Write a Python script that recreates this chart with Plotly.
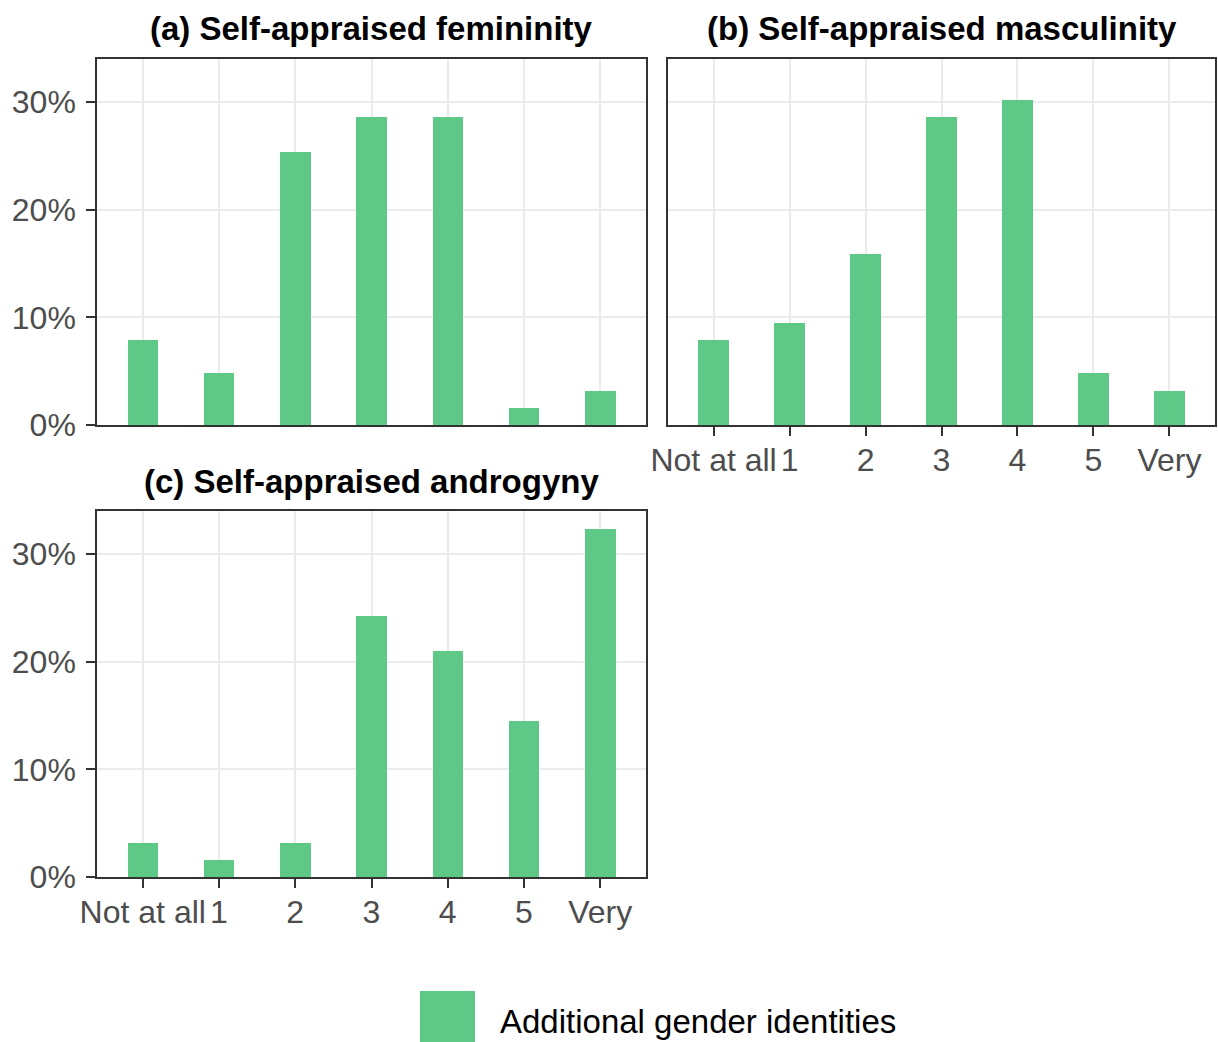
import plotly.graph_objects as go

categories = ["Not at all", "1", "2", "3", "4", "5", "Very"]
femininity = [0.079, 0.048, 0.254, 0.286, 0.286, 0.016, 0.032]
masculinity = [0.079, 0.095, 0.159, 0.286, 0.302, 0.048, 0.032]
androgyny = [0.032, 0.016, 0.032, 0.242, 0.210, 0.145, 0.323]
panel_titles = ["(a) Self-appraised femininity", "(b) Self-appraised masculinity", "(c) Self-appraised androgyny"]
series_name = "Additional gender identities"
y_ticks = [0, 0.1, 0.2, 0.3]

W, H = 1218, 1042
BAR = "#5EC886"
FONT = "Liberation Sans, Arial, sans-serif"

def px(x):
    return x / W

def py(y):
    return 1 - y / H

fig = go.Figure()

panels = [
    dict(vals=femininity, x0=97, x1=646, y0=59, y1=425, xa="x", ya="y", showx=False, showy=True),
    dict(vals=masculinity, x0=668, x1=1215, y0=59, y1=425, xa="x2", ya="y2", showx=True, showy=False),
    dict(vals=androgyny, x0=97, x1=646, y0=511, y1=877, xa="x3", ya="y3", showx=True, showy=True),
]

for i, p in enumerate(panels):
    fig.add_trace(go.Bar(
        x=categories, y=p["vals"], width=0.4, marker=dict(color=BAR, line=dict(width=0)),
        xaxis=p["xa"], yaxis=p["ya"], showlegend=False, name=series_name,
    ))
    sfx = "" if i == 0 else str(i + 1)
    fig.layout["xaxis" + sfx] = dict(
        domain=[px(p["x0"]), px(p["x1"])], anchor="y" + sfx, type="category",
        categoryorder="array", categoryarray=categories, range=[-0.6, 6.6],
        showgrid=True, gridcolor="#EBEBEB", gridwidth=2,
        showline=True, linecolor="#333333", linewidth=1.5, mirror=True,
        ticks="outside" if p["showx"] else "", ticklen=9, tickwidth=2, tickcolor="#333333",
        showticklabels=p["showx"], tickfont=dict(family=FONT, size=32, color="#4D4D4D"),
        zeroline=False, automargin=False, ticklabelstandoff=-3,
    )
    fig.layout["yaxis" + sfx] = dict(
        domain=[py(p["y1"]), py(p["y0"])], anchor="x" + sfx, range=[0, 0.34],
        tickvals=y_ticks, tickformat=".0%",
        showgrid=True, gridcolor="#EBEBEB", gridwidth=2,
        showline=True, linecolor="#333333", linewidth=1.5, mirror=True,
        ticks="outside" if p["showy"] else "", ticklen=9, tickwidth=2, tickcolor="#333333",
        showticklabels=p["showy"], tickfont=dict(family=FONT, size=32, color="#4D4D4D"),
        zeroline=False, ticklabelstandoff=4, automargin=False,
    )
    fig.add_annotation(
        text="<b>" + panel_titles[i] + "</b>", xref="paper", yref="paper",
        x=px((p["x0"] + p["x1"]) / 2), y=py(p["y0"] - 30), xanchor="center", yanchor="middle",
        showarrow=False, font=dict(family=FONT, size=33, color="black"),
    )

# legend
fig.add_shape(type="rect", xref="paper", yref="paper",
              x0=px(420), x1=px(475), y0=py(1044), y1=py(991),
              fillcolor=BAR, line=dict(width=0))
fig.add_annotation(text=series_name, xref="paper", yref="paper",
                   x=px(498), y=py(1021), xanchor="left", yanchor="middle",
                   showarrow=False, font=dict(family=FONT, size=33, color="black"))

fig.update_layout(
    width=W, height=H, margin=dict(l=0, r=0, t=0, b=0, autoexpand=False),
    plot_bgcolor="white", paper_bgcolor="white", showlegend=False, bargap=0,
)

fig.write_html(
    "out.html",
    config={"displayModeBar": False},
    post_script="document.body.style.margin='0';document.body.style.overflow='hidden';",
)
